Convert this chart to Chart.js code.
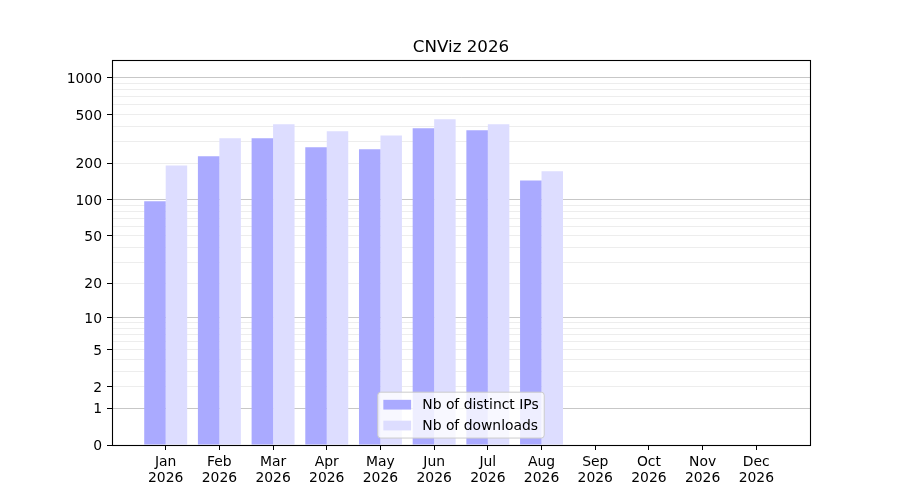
<!DOCTYPE html>
<html><head><meta charset="utf-8">
<script src="https://cdn.jsdelivr.net/npm/chart.js@4.4.1/dist/chart.umd.min.js"></script>
<style>html,body{margin:0;padding:0;background:#fff;} canvas{display:block;}</style>
</head><body>
<canvas id="c" width="900" height="500"></canvas>
<script>
// ---- data ----
const months = ['Jan','Feb','Mar','Apr','May','Jun','Jul','Aug','Sep','Oct','Nov','Dec'];
const year = '2026';
const chartTitle = 'CNViz 2026';
const seriesNames = ['Nb of distinct IPs', 'Nb of downloads'];
const distinctIPs = [97, 227, 319, 269, 259, 385, 371, 144];
const downloads = [191, 319, 415, 364, 337, 456, 415, 171];
const yLabelValues = [0, 1, 2, 5, 10, 20, 50, 100, 200, 500, 1000];
const yMajorGrid = [1, 10, 100, 1000];
const yMinorGrid = [2,3,4,5,6,7,8,9, 20,30,40,50,60,70,80,90, 200,300,400,500,600,700,800,900];
const yMax = 1395;

const FS = 13.9;
Chart.defaults.font.family = '"DejaVu Sans", sans-serif';
Chart.defaults.font.size = FS;
Chart.defaults.color = '#000';

// log10(x+1) scale, like matplotlib's function scale
class Log1pScale extends Chart.LinearScale {
  static id = 'log1p';
  static defaults = Chart.LinearScale.defaults;
  determineDataLimits() {
    this.min = this.options.min ?? 0;
    this.max = this.options.max;
  }
  buildTicks() {
    const vals = Array.from(new Set([0, ...yMajorGrid, ...yMinorGrid]));
    return vals.filter(v => v >= this.min && v <= this.max).sort((a, b) => a - b).map(v => ({ value: v }));
  }
  configure() {
    super.configure();
    this._tmin = Math.log10(this.min + 1);
    this._tmax = Math.log10(this.max + 1);
  }
  getPixelForValue(v) {
    const t = Math.log10(Math.max(v, 0) + 1);
    return this.getPixelForDecimal((t - this._tmin) / (this._tmax - this._tmin));
  }
  getValueForPixel(p) {
    const d = this.getDecimalForPixel(p);
    return Math.pow(10, this._tmin + d * (this._tmax - this._tmin)) - 1;
  }
}
Chart.register(Log1pScale);

const framePlugin = {
  id: 'frameAndTitle',
  afterDraw(chart) {
    const ctx = chart.ctx, a = chart.chartArea;
    ctx.save();
    ctx.strokeStyle = '#000';
    ctx.lineWidth = 1.1;
    ctx.strokeRect(Math.round(a.left) + 0.5, Math.round(a.top) + 0.5, Math.round(a.right) - Math.round(a.left), Math.round(a.bottom) - Math.round(a.top));
    // title
    ctx.fillStyle = '#000';
    ctx.font = '16.7px "DejaVu Sans"';
    ctx.textAlign = 'center';
    ctx.textBaseline = 'alphabetic';
    ctx.fillText(chartTitle, (a.left + a.right) / 2, a.top - 8.3);
    // legend
    const ds = chart.data.datasets;
    ctx.font = FS + 'px "DejaVu Sans"';
    const tw = Math.max(...ds.map(d => ctx.measureText(d.label).width));
    const pad = 0.4 * FS, hl = 2 * FS, gap = 0.8 * FS, rowH = FS, ls = 0.5 * FS;
    const w = pad + hl + gap + tw + pad;
    const h = 2 * pad + ds.length * rowH + (ds.length - 1) * ls;
    const x0 = (a.left + a.right) / 2 - w / 2;
    const y0 = a.bottom - 0.5 * FS - h;
    ctx.beginPath();
    if (ctx.roundRect) ctx.roundRect(x0, y0, w, h, 3); else ctx.rect(x0, y0, w, h);
    ctx.fillStyle = 'rgba(255,255,255,0.8)';
    ctx.fill();
    ctx.strokeStyle = '#cccccc';
    ctx.lineWidth = 1;
    ctx.stroke();
    ds.forEach((d, i) => {
      const cy = y0 + pad + rowH / 2 + i * (rowH + ls);
      ctx.fillStyle = d.backgroundColor;
      ctx.fillRect(x0 + pad, cy - 0.35 * FS, hl, 0.7 * FS);
      ctx.fillStyle = '#000';
      ctx.textAlign = 'left';
      ctx.textBaseline = 'middle';
      ctx.fillText(d.label, x0 + pad + hl + gap, cy + 0.5);
    });
    ctx.restore();
  }
};

new Chart(document.getElementById('c'), {
  type: 'bar',
  data: {
    datasets: [
      { label: seriesNames[0], data: distinctIPs.map((v, i) => ({ x: i, y: v })), backgroundColor: '#aaaaff', borderWidth: 0 },
      { label: seriesNames[1], data: downloads.map((v, i) => ({ x: i, y: v })), backgroundColor: '#ddddff', borderWidth: 0 }
    ]
  },
  options: {
    responsive: false,
    animation: false,
    devicePixelRatio: 1,
    categoryPercentage: 0.8,
    barPercentage: 1.0,
    layout: { padding: { top: 60, right: 90, left: 0, bottom: 0 } },
    plugins: { legend: { display: false }, title: { display: false }, tooltip: { enabled: false } },
    scales: {
      x: {
        type: 'linear', min: -1, max: 12, offset: false,
        afterBuildTicks: s => { s.ticks = months.map((m, i) => ({ value: i })); },
        afterFit: s => { s.height = 55; },
        ticks: { autoSkip: false, maxRotation: 0, padding: 4, font: { size: FS, lineHeight: 1.17 },
                 callback: v => [months[v], year] },
        grid: { offset: false, drawOnChartArea: false, drawTicks: true, tickLength: 5, tickColor: '#000', tickWidth: 1 },
        border: { display: true, color: '#000', width: 1 }
      },
      y: {
        type: 'log1p', min: 0, max: yMax, z: 1,
        afterFit: s => { s.width = 112; },
        ticks: { autoSkip: false, padding: 5, labelOffset: 1.5, font: { size: FS },
                 callback: v => yLabelValues.includes(v) ? String(v) : '' },
        grid: {
          drawOnChartArea: true, drawTicks: true, tickLength: 5, tickWidth: 1,
          color: c => yMajorGrid.includes(c.tick.value) ? 'rgba(0,0,0,0.22)' : (c.tick.value === 0 ? 'rgba(0,0,0,0)' : 'rgba(0,0,0,0.07)'),
          tickColor: c => yLabelValues.includes(c.tick.value) ? '#000' : 'rgba(0,0,0,0)'
        },
        border: { display: true, color: '#000', width: 1 }
      }
    }
  },
  plugins: [framePlugin]
});
</script>
</body></html>
